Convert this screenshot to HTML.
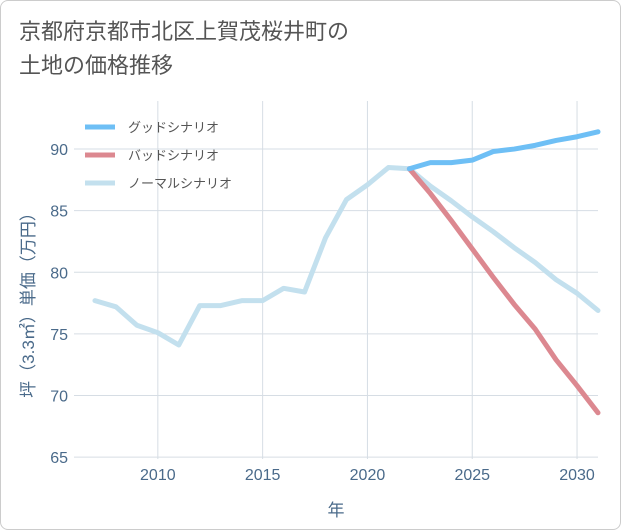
<!DOCTYPE html>
<html><head><meta charset="utf-8"><style>
body{margin:0;background:#fff;font-family:"Liberation Sans","Noto Sans CJK JP",sans-serif}
#wrap{position:relative;width:621px;height:530px;box-sizing:border-box;border:1px solid #ccc;border-radius:8px;overflow:hidden}
#title{position:absolute;left:18px;top:14px;font-size:22px;line-height:34px;color:#555;font-family:"Liberation Sans","Noto Sans CJK JP",sans-serif}
svg{position:absolute;left:0;top:0}
</style></head><body>
<div id="wrap">
<div id="title">京都府京都市北区上賀茂桜井町の<br>土地の価格推移</div>
<svg id="c" width="621" height="530"></svg>
</div>
<script>
const years=[2007,2008,2009,2010,2011,2012,2013,2014,2015,2016,2017,2018,2019,2020,2021,2022,2023,2024,2025,2026,2027,2028,2029,2030,2031];
const normal=[77.7,77.2,75.7,75.1,74.1,77.3,77.3,77.7,77.7,78.7,78.4,82.8,85.9,87.1,88.5,88.4,87.0,85.8,84.5,83.3,82.0,80.8,79.4,78.3,76.9];
const goodYears=[2022,2023,2024,2025,2026,2027,2028,2029,2030,2031];
const good=[88.4,88.9,88.9,89.1,89.8,90.0,90.3,90.7,91.0,91.4];
const bad=[88.4,86.4,84.2,81.9,79.6,77.4,75.4,72.9,70.8,68.6];
const xTicks=[2010,2015,2020,2025,2030];
const yTicks=[65,70,75,80,85,90];
const L=73,R=597,T=100,B=458;
const x=v=>L+(v-2006)*(R-L)/(2031-2006);
const y=v=>B-(v-64.85)*(B-T)/(93.9-64.85);
const s=document.getElementById('c');const NS='http://www.w3.org/2000/svg';
function el(t,a,p){const e=document.createElementNS(NS,t);for(const k in a)e.setAttribute(k,a[k]);(p||s).appendChild(e);return e;}
xTicks.forEach(v=>{const g=el('line',{x1:x(v),x2:x(v),y1:T,y2:B,stroke:'#d6dde4','stroke-width':1});


const t=el('text',{x:x(v),y:B+21,'text-anchor':'middle','font-size':16,fill:'#4a6a8a'});t.textContent=v;

});
yTicks.forEach(v=>{const g=el('line',{x1:L,x2:R,y1:y(v),y2:y(v),stroke:'#d6dde4','stroke-width':1});


const t=el('text',{x:L-6,y:y(v)+6,'text-anchor':'end','font-size':16,fill:'#4a6a8a'});t.textContent=v;

});
function line(xs,vs,c,n){const p=el('polyline',{points:xs.map((yr,i)=>x(yr)+','+y(vs[i])).join(' '),fill:'none',stroke:c,'stroke-width':5,'stroke-linejoin':'round','stroke-linecap':'round'});

}
line(years,normal,'#c3e0ee','normal-scenario-line');
line(goodYears,bad,'#dc8890','bad-scenario-line');
line(goodYears,good,'#6ebff5','good-scenario-line');
const xt=el('text',{x:335,y:515,'text-anchor':'middle','font-size':17,fill:'#4a6a8a'});xt.textContent='年';


const yt=el('text',{x:0,y:0,'text-anchor':'middle','font-size':17,fill:'#4a6a8a',transform:'translate(33,300) rotate(-90)'});yt.textContent='坪（3.3㎡）単価（万円）';


const leg=[['グッドシナリオ','#6ebff5'],['バッドシナリオ','#dc8890'],['ノーマルシナリオ','#c3e0ee']];
leg.forEach((d,i)=>{const yy=126+i*28;
const l=el('line',{x1:84,x2:114,y1:yy,y2:yy,stroke:d[1],'stroke-width':5});


const t=el('text',{x:127,y:yy+5,'font-size':13,fill:'#555'});t.textContent=d[0];

});
</script>
</body></html>
